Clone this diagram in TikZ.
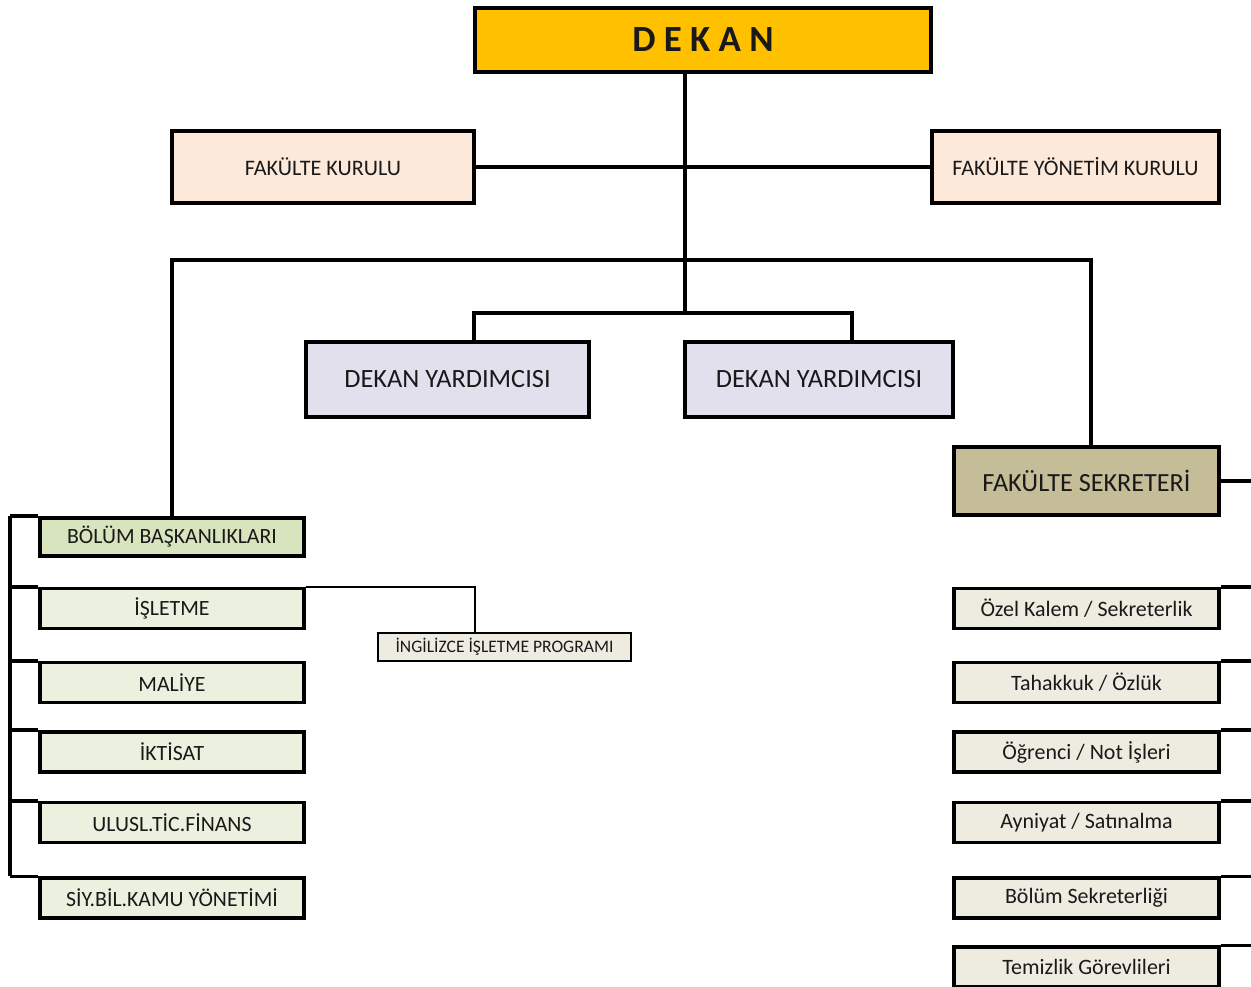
\documentclass[tikz,border=0pt]{standalone}
\usepackage{fontspec}
\setmainfont{Carlito}
\usepackage{tikz}
\usetikzlibrary{positioning,calc}
\definecolor{dekanrenk}{HTML}{FFC000}
\definecolor{kurulrenk}{HTML}{FDE9D9}
\definecolor{yardrenk}{HTML}{E3E0EE}
\definecolor{sekrenk}{HTML}{C4BD97}
\definecolor{basrenk}{HTML}{D7E4BD}
\definecolor{bolumrenk}{HTML}{EBF1DE}
\definecolor{birimrenk}{HTML}{EEECE1}
\newcommand{\yazi}[1]{\fontsize{#1}{#1}\selectfont}

\begin{document}
\begin{tikzpicture}[x=0.02cm,y=-0.02cm,
    kutu/.style={draw, line width=2pt, inner sep=0pt, align=center, text=black!90},
    dekankutu/.style={kutu, fill=dekanrenk, minimum width=9.12cm, minimum height=1.28cm, font=\yazi{21}\bfseries},
    kurulkutu/.style={kutu, fill=kurulrenk, minimum height=1.44cm, font=\yazi{12.6}},
    yardkutu/.style={kutu, fill=yardrenk, minimum height=1.5cm, font=\yazi{15}},
    sekkutu/.style={kutu, fill=sekrenk, minimum width=5.3cm, minimum height=1.36cm, font=\yazi{14.9}},
    bolumkutu/.style={kutu, fill=bolumrenk, minimum width=5.28cm, minimum height=0.8cm, font=\yazi{12.4}},
    birimkutu/.style={kutu, fill=birimrenk, minimum width=5.3cm, minimum height=0.8cm, font=\yazi{12.5}},
    hat/.style={draw, line width=2pt}]
    \useasboundingbox (0,0) rectangle (1251,987);

    \node[dekankutu] (dekan) at (703,40) {D E K A N};
    \node[kurulkutu, minimum width=6.04cm] (fk) at (323,167) {FAKÜLTE KURULU};
    \node[kurulkutu, minimum width=5.74cm] (fyk) at (1075.5,167) {FAKÜLTE YÖNETİM KURULU};
    \node[yardkutu, minimum width=5.66cm] (dy1) at (447.5,379.5) {DEKAN YARDIMCISI};
    \node[yardkutu, minimum width=5.36cm] (dy2) at (819,379.5) {DEKAN YARDIMCISI};
    \node[sekkutu] (fs) at (1086.5,481) {FAKÜLTE SEKRETERİ};

    % bolumler
    \node[bolumkutu, fill=basrenk, minimum height=0.76cm] (bb) at (172,537) {BÖLÜM BAŞKANLIKLARI};
    \node[bolumkutu] (isl) at (172,608.5) {İŞLETME};
    \node[bolumkutu] (mal) at (172,682.5) {MALİYE};
    \node[bolumkutu] (ikt) at (172,752) {İKTİSAT};
    \node[bolumkutu] (utf) at (172,822.5) {ULUSL.TİC.FİNANS};
    \node[bolumkutu] (siy) at (172,898) {SİY.BİL.KAMU YÖNETİMİ};
    \node[kutu, line width=1.5pt, fill=birimrenk, minimum width=5.06cm, minimum height=0.56cm, font=\yazi{10}] (ing) at (504.5,647) {İNGİLİZCE İŞLETME PROGRAMI};

    % sekreterlik birimleri
    \node[birimkutu] (ozk) at (1086.5,608.5) {Özel Kalem / Sekreterlik};
    \node[birimkutu] (tah) at (1086.5,682.5) {Tahakkuk / Özlük};
    \node[birimkutu] (ogr) at (1086.5,752) {Öğrenci / Not İşleri};
    \node[birimkutu] (ayn) at (1086.5,822.5) {Ayniyat / Satınalma};
    \node[birimkutu] (bsk) at (1086.5,898) {Bölüm Sekreterliği};
    \node[birimkutu] (tem) at (1086.5,967) {Temizlik Görevlileri};

    \coordinate (govde) at (685,313);
    \coordinate (sag) at (1091,260);
    \coordinate (y1) at (474,313);
    \coordinate (y2) at (852,313);
    \coordinate (solkol) at (10,0);
    \coordinate (sagkenar) at (1251,0);
    \coordinate (ingbag) at (475,0);

    \draw[hat] (govde |- dekan.south) -- (govde);
    \draw[hat] (fk.east) -- (fyk.west);
    \draw[hat] (bb.north) |- (sag) -- (sag |- fs.north);
    \draw[hat] (y1 |- dy1.north) -- (y1) -- (y2) -- (y2 |- dy2.north);
    \draw[hat] (solkol |- bb.north) -- (solkol |- siy.north);
    \foreach \n in {bb,isl,mal,ikt,utf,siy}
        \draw[hat] (\n.north west) -- (\n.north west -| solkol);
    \draw[line width=1.1pt] (isl.north east) -| (ing.north -| ingbag);
    \draw[hat] (fs.east) -- (fs.east -| sagkenar);
    \foreach \n in {ozk,tah,ogr,ayn,bsk,tem}
        \draw[hat] (\n.north east) -- (\n.north east -| sagkenar);
\end{tikzpicture}
\end{document}
